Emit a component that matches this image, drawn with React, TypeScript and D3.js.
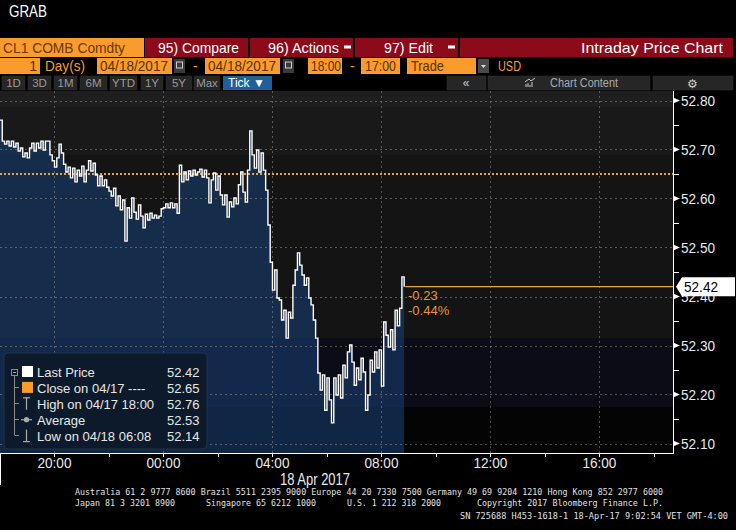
import React from "react";
import * as d3 from "d3";

// ---- data ----
const prices = [
  52.760, 52.717, 52.711, 52.717, 52.707, 52.717, 52.705, 52.713, 52.697, 52.703,
  52.685, 52.693, 52.683, 52.703, 52.713, 52.697, 52.713, 52.703, 52.717, 52.699,
  52.717, 52.717, 52.689, 52.677, 52.664, 52.683, 52.711, 52.693, 52.670, 52.654,
  52.664, 52.642, 52.662, 52.634, 52.658, 52.646, 52.666, 52.634, 52.658, 52.677,
  52.656, 52.672, 52.648, 52.626, 52.646, 52.626, 52.638, 52.623, 52.615, 52.605,
  52.621, 52.585, 52.605, 52.577, 52.597, 52.513, 52.581, 52.560, 52.601, 52.572,
  52.558, 52.587, 52.564, 52.540, 52.568, 52.556, 52.570, 52.560, 52.566, 52.560,
  52.564, 52.579, 52.581, 52.589, 52.581, 52.591, 52.581, 52.589, 52.570, 52.668,
  52.634, 52.654, 52.638, 52.656, 52.646, 52.658, 52.648, 52.654, 52.660, 52.644,
  52.658, 52.642, 52.591, 52.638, 52.652, 52.617, 52.646, 52.607, 52.587, 52.607,
  52.562, 52.593, 52.583, 52.601, 52.589, 52.628, 52.654, 52.613, 52.593, 52.658,
  52.738, 52.689, 52.662, 52.699, 52.654, 52.693, 52.658, 52.617, 52.546, 52.470,
  52.413, 52.454, 52.397, 52.393, 52.352, 52.372, 52.315, 52.368, 52.356, 52.423,
  52.454, 52.489, 52.464, 52.444, 52.423, 52.438, 52.397, 52.383, 52.352, 52.315,
  52.244, 52.209, 52.240, 52.168, 52.234, 52.189, 52.142, 52.234, 52.199, 52.240,
  52.193, 52.260, 52.234, 52.287, 52.301, 52.266, 52.219, 52.254, 52.230, 52.274,
  52.246, 52.168, 52.199, 52.270, 52.246, 52.287, 52.254, 52.291, 52.217, 52.348,
  52.321, 52.297, 52.332, 52.291, 52.372, 52.340, 52.376, 52.440, 52.420,
];
const START = new Date(2017, 3, 17, 18, 0);
const END = new Date(2017, 3, 18, 18, 42);
const STEP_MIN = 5;

const yTicks = [52.1, 52.2, 52.3, 52.4, 52.5, 52.6, 52.7, 52.8];
const yMinorTicks = [52.15, 52.25, 52.35, 52.45, 52.55, 52.65, 52.75];
const yDomain = [52.1, 52.8];

const legendLabels = ["Last Price", "Close on 04/17 ----", "High on 04/17 18:00", "Average", "Low on 04/18 06:08"];
const legendValues = [52.42, 52.65, 52.76, 52.53, 52.14];
const prevClose = 52.65;
const lastPrice = 52.42;
const netChange = -0.23;
const pctChange = -0.44;

const rangeButtons = ["1D", "3D", "1M", "6M", "YTD", "1Y", "5Y", "Max"];
const footer1 = "Australia 61 2 9777 8600 Brazil 5511 2395 9000 Europe 44 20 7330 7500 Germany 49 69 9204 1210 Hong Kong 852 2977 6000";
const footer2 = ["Japan 81 3 3201 8900", "Singapore 65 6212 1000", "U.S. 1 212 318 2000", "Copyright 2017 Bloomberg Finance L.P."];
const footer3 = "SN 725688 H453-1618-1 18-Apr-17  9:02:54 VET  GMT-4:00";

const data = prices.map((p, i) => ({ t: new Date(START.getTime() + i * STEP_MIN * 60000), p }));

const FONT = "'Liberation Sans', Arial, sans-serif";
const MONO = "'DejaVu Sans Mono', 'Liberation Mono', monospace";
const ORANGE = "#f99c2b";
const RED = "#8c0a1a";

export default function App() {
  const W = 673, TOP = 91, BOT = 453;
  const x = d3.scaleTime().domain([START, END]).range([0, W]);
  const y = d3.scaleLinear().domain(yDomain).range([443.5, 100.5]);
  const line = d3.line<any>().x(d => x(d.t)).y(d => y(d.p)).curve(d3.curveStepAfter);
  const area = d3.area<any>().x(d => x(d.t)).y0(BOT).y1(d => y(d.p)).curve(d3.curveStepAfter);
  const majorX = x.ticks(d3.timeHour.every(4)!);
  const minorX = x.ticks(d3.timeHour.every(2)!);
  const fmt = d3.timeFormat("%H:%M");
  const lastX = x(data[data.length - 1].t);
  const yLast = y(lastPrice);

  const legendIcon = (i: number, cy: number) => {
    if (i === 0) return <rect x={22} y={cy - 6} width={11} height={11} fill="#ffffff" />;
    if (i === 1) return <rect x={22} y={cy - 6} width={11} height={11} fill={ORANGE} />;
    if (i === 2) return <g stroke="#aaaaaa" strokeWidth={1.2}><line x1={23} x2={30} y1={cy - 6} y2={cy - 6} /><line x1={26.5} x2={26.5} y1={cy - 6} y2={cy + 6} /></g>;
    if (i === 3) return <g stroke="#aaaaaa" strokeWidth={1.2}><line x1={21} x2={32} y1={cy} y2={cy} /><circle cx={26.5} cy={cy} r={2} fill="#aaaaaa" /></g>;
    return <g stroke="#aaaaaa" strokeWidth={1.2}><line x1={23} x2={30} y1={cy + 6} y2={cy + 6} /><line x1={26.5} x2={26.5} y1={cy - 6} y2={cy + 6} /></g>;
  };

  return (
    <svg width={736} height={530} style={{ position: "absolute", left: 0, top: 0, background: "#000" }} fontFamily={FONT}>
      <rect x={0} y={0} width={736} height={530} fill="#000" />
      {/* title */}
      <text x={9} y={17} fill="#fff" fontSize={17} textLength={38} lengthAdjust="spacingAndGlyphs">GRAB</text>

      {/* Row 1 */}
      <rect x={0} y={38} width={144} height={19} fill={ORANGE} />
      <text x={3} y={53} fontSize={15} fill="#6b3a08" textLength={122} lengthAdjust="spacingAndGlyphs">CL1 COMB Comdty</text>
      <rect x={145} y={38} width={103} height={19} fill={RED} />
      <text x={158} y={53} fontSize={15} fill="#fff" textLength={81} lengthAdjust="spacingAndGlyphs">95) Compare</text>
      <rect x={250} y={38} width={103} height={19} fill={RED} />
      <text x={268} y={53} fontSize={15} fill="#fff" textLength={71} lengthAdjust="spacingAndGlyphs">96) Actions</text>
      <rect x={344} y={45.5} width={7} height={3} fill="#fff" />
      <rect x={355} y={38} width={103} height={19} fill={RED} />
      <text x={384} y={53} fontSize={15} fill="#fff" textLength={49} lengthAdjust="spacingAndGlyphs">97) Edit</text>
      <rect x={448} y={45.5} width={7} height={3} fill="#fff" />
      <rect x={460} y={38} width={273} height={19} fill={RED} />
      <text x={723} y={53} fontSize={15} fill="#fff" textAnchor="end" textLength={142} lengthAdjust="spacingAndGlyphs">Intraday Price Chart</text>

      {/* Row 2 */}
      <rect x={0} y={58} width={40} height={16} fill={ORANGE} />
      <text x={37} y={71} fontSize={14} fill="#5a3000" textAnchor="end">1</text>
      <text x={45} y={71} fontSize={14} fill={ORANGE} textLength={40} lengthAdjust="spacingAndGlyphs">Day(s)</text>
      <rect x={97} y={58} width={75} height={16} fill={ORANGE} />
      <text x={100} y={71} fontSize={14} fill="#5a3000" textLength={68} lengthAdjust="spacingAndGlyphs">04/18/2017</text>
      <rect x={174} y={59} width={11} height={14} fill="#3a3a3a" />
      <rect x={176.5} y={62} width={6} height={6} fill="none" stroke="#ccc" strokeWidth={1} />
      <text x={193} y={71} fontSize={14} fill={ORANGE}>-</text>
      <rect x={205} y={58} width={75} height={16} fill={ORANGE} />
      <text x={208} y={71} fontSize={14} fill="#5a3000" textLength={68} lengthAdjust="spacingAndGlyphs">04/18/2017</text>
      <rect x={283} y={59} width={11} height={14} fill="#3a3a3a" />
      <rect x={285.5} y={62} width={6} height={6} fill="none" stroke="#ccc" strokeWidth={1} />
      <rect x={308} y={58} width={34} height={16} fill={ORANGE} />
      <text x={311} y={71} fontSize={14} fill="#5a3000" textLength={30} lengthAdjust="spacingAndGlyphs">18:00</text>
      <text x={350} y={71} fontSize={14} fill={ORANGE}>-</text>
      <rect x={361} y={58} width={39} height={16} fill={ORANGE} />
      <text x={365} y={71} fontSize={14} fill="#5a3000" textLength={31} lengthAdjust="spacingAndGlyphs">17:00</text>
      <rect x={407} y={58} width={69} height={16} fill={ORANGE} />
      <text x={411} y={71} fontSize={14} fill="#5a3000" textLength={33} lengthAdjust="spacingAndGlyphs">Trade</text>
      <rect x={478} y={59} width={11} height={14} fill="#4a4a4a" />
      <path d="M481,65 L486,65 L483.5,68 Z" fill="#ddd" />
      <text x={498} y={71} fontSize={14} fill={ORANGE} textLength={23} lengthAdjust="spacingAndGlyphs">USD</text>

      {/* Row 3 */}
      {rangeButtons.map((b, i) => {
        const xs = [2, 28, 54, 80, 110, 141, 166, 194];
        const ws = [23, 23, 23, 27, 27, 22, 26, 26];
        return (
          <g key={b}>
            <rect x={xs[i]} y={76} width={ws[i]} height={14} fill="#262626" stroke="#333" strokeWidth={0.5} />
            <text x={xs[i] + ws[i] / 2} y={87} fontSize={11.5} fill="#9a9a9a" textAnchor="middle">{b}</text>
          </g>
        );
      })}
      <rect x={223} y={76} width={49} height={14} fill="#1f5f9c" />
      <text x={228} y={87} fontSize={12} fill="#fff">Tick ▼</text>
      <rect x={447} y={76} width={39} height={14} fill="#262626" stroke="#333" strokeWidth={0.5} />
      <text x={466} y={87} fontSize={12} fill="#ccc" textAnchor="middle">«</text>
      <rect x={488} y={76} width={162} height={14} fill="#262626" stroke="#333" strokeWidth={0.5} />
      <path d="M526,87 L526,84 M528,87 L528,83 M530,87 L530,85 M532,87 L532,82 M525,82 L529,79 L531,81 L535,78" stroke="#ccc" strokeWidth={1} fill="none" />
      <text x={550} y={87} fontSize={12} fill="#aaa" textLength={68} lengthAdjust="spacingAndGlyphs">Chart Content</text>
      <rect x={653} y={76} width={80} height={14} fill="#262626" stroke="#333" strokeWidth={0.5} />
      <text x={692} y={87.5} fontSize={12} fill="#ccc" textAnchor="middle">⚙</text>

      {/* plot background bands */}
      <rect x={0} y={TOP} width={W} height={16} fill="#1e1e1e" />
      <rect x={0} y={107} width={W} height={48} fill="#191919" />
      <rect x={0} y={155} width={W} height={183} fill="#141414" />
      <rect x={0} y={338} width={W} height={69} fill="#0c0c16" />
      <rect x={0} y={407} width={W} height={BOT - 407} fill="#040404" />

      {/* area */}
      <path d={area(data) || ""} fill="rgb(23,59,110)" fillOpacity={0.62} />

      {/* grid */}
      <g stroke="#909090" strokeOpacity={0.55} strokeDasharray="2,3" strokeWidth={1}>
        {majorX.map(t => <line key={+t} x1={Math.round(x(t)) + 0.5} x2={Math.round(x(t)) + 0.5} y1={TOP} y2={BOT} />)}
        {yTicks.map(v => <line key={v} x1={0} x2={W} y1={Math.round(y(v)) + 0.5} y2={Math.round(y(v)) + 0.5} />)}
      </g>

      {/* previous close dotted */}
      <line x1={0} x2={W} y1={y(prevClose)} y2={y(prevClose)} stroke="#f5a232" strokeWidth={2} strokeDasharray="2,2" />

      {/* price line */}
      <path d={line(data) || ""} fill="none" stroke="#ffffff" strokeWidth={1.4} />

      {/* last price line and change */}
      <line x1={lastX + 1} x2={W} y1={yLast} y2={yLast} stroke="#f0a030" strokeWidth={1.3} />
      <text x={408} y={300} fontSize={13} fill="#e8962c">{netChange.toFixed(2)}</text>
      <text x={408} y={315} fontSize={13} fill="#e8962c">{pctChange.toFixed(2)}%</text>

      {/* legend */}
      <rect x={4} y={353} width={203} height={96} rx={4} fill="#0d1a2b" stroke="#22324a" strokeWidth={1} />
      <g stroke="#8a8a8a" strokeWidth={1}>
        <line x1={14.5} x2={14.5} y1={376} y2={435} />
        {[387, 403, 419, 435].map(cy => <line key={cy} x1={14.5} x2={19} y1={cy + 0.5} y2={cy + 0.5} />)}
      </g>
      <rect x={11.5} y={369.5} width={6} height={6} fill="#0d1a2b" stroke="#8a8a8a" strokeWidth={1} />
      <line x1={13} x2={16} y1={372.5} y2={372.5} stroke="#aaa" strokeWidth={1} />
      {legendLabels.map((lab, i) => {
        const cy = 372 + i * 15.9;
        return (
          <g key={lab}>
            {legendIcon(i, cy)}
            <text x={37} y={cy + 5} fontSize={13} fill="#e6e6e6">{lab}</text>
            <text x={167} y={cy + 5} fontSize={13} fill="#e6e6e6">{legendValues[i].toFixed(2)}</text>
          </g>
        );
      })}

      {/* axes */}
      <line x1={W + 0.5} x2={W + 0.5} y1={TOP} y2={BOT} stroke="#fff" strokeWidth={1} />
      <line x1={0} x2={W + 1} y1={BOT + 0.5} y2={BOT + 0.5} stroke="#fff" strokeWidth={1} />
      <line x1={0.5} x2={0.5} y1={BOT} y2={485} stroke="#fff" strokeWidth={1} />
      {minorX.map(t => <line key={+t} x1={Math.round(x(t)) + 0.5} x2={Math.round(x(t)) + 0.5} y1={BOT} y2={BOT + 4} stroke="#fff" strokeWidth={1} />)}
      {majorX.map(t => (
        <text key={+t} x={x(t)} y={468} fontSize={14} fill="#e8e8e8" textAnchor="middle" textLength={34} lengthAdjust="spacingAndGlyphs">{fmt(t)}</text>
      ))}
      <text x={280} y={485} fontSize={16} fill="#e8e8e8" textLength={70} lengthAdjust="spacingAndGlyphs">18 Apr 2017</text>

      {yMinorTicks.map(v => <line key={v} x1={W} x2={W + 6} y1={Math.round(y(v)) + 0.5} y2={Math.round(y(v)) + 0.5} stroke="#fff" strokeWidth={1} />)}
      {yTicks.map(v => (
        <g key={v}>
          <path d={`M${W},${y(v) - 3} L${W + 7},${y(v)} L${W},${y(v) + 3} Z`} fill="#fff" />
          <text x={681} y={y(v) + 5} fontSize={14} fill="#e8e8e8" textLength={34} lengthAdjust="spacingAndGlyphs">{v.toFixed(2)}</text>
        </g>
      ))}

      {/* last price tag */}
      <path d={`M${W + 3},${yLast} L${W + 9},${yLast - 9.5} L735,${yLast - 9.5} L735,${yLast + 9.5} L${W + 9},${yLast + 9.5} Z`} fill="#fff" />
      <text x={684} y={yLast + 5} fontSize={14} fill="#000" textLength={34} lengthAdjust="spacingAndGlyphs">{lastPrice.toFixed(2)}</text>

      {/* footer */}
      <text x={75} y={495} fontSize={9} fontFamily={MONO} fill="#e0e0e0" textLength={588} lengthAdjust="spacingAndGlyphs">{footer1}</text>
      <text x={75} y={506} fontSize={9} fontFamily={MONO} fill="#e0e0e0" textLength={100} lengthAdjust="spacingAndGlyphs">{footer2[0]}</text>
      <text x={206} y={506} fontSize={9} fontFamily={MONO} fill="#e0e0e0" textLength={110} lengthAdjust="spacingAndGlyphs">{footer2[1]}</text>
      <text x={347} y={506} fontSize={9} fontFamily={MONO} fill="#e0e0e0" textLength={94} lengthAdjust="spacingAndGlyphs">{footer2[2]}</text>
      <text x={477} y={506} fontSize={9} fontFamily={MONO} fill="#e0e0e0" textLength={186} lengthAdjust="spacingAndGlyphs">{footer2[3]}</text>
      <text x={460} y={519} fontSize={9} fontFamily={MONO} fill="#e0e0e0" textLength={268} lengthAdjust="spacingAndGlyphs">{footer3}</text>
    </svg>
  );
}
